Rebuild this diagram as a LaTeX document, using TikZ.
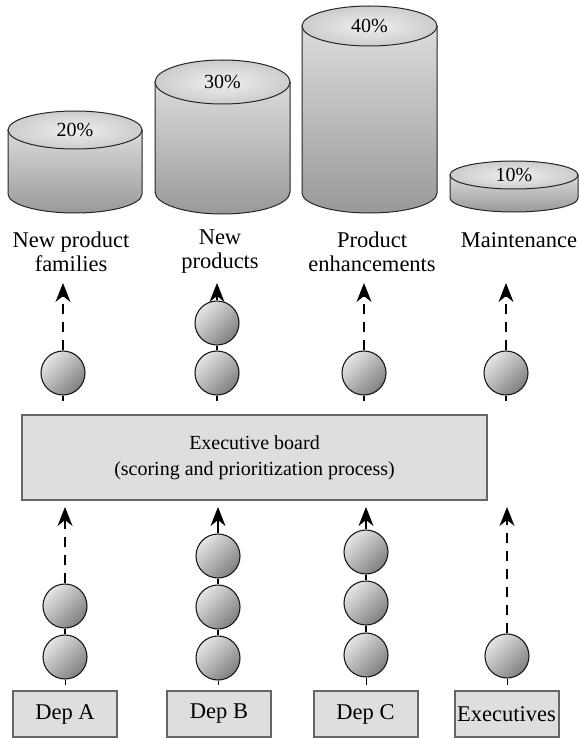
\documentclass[tikz,border=0pt]{standalone}
\usepackage{fontspec}
\setmainfont{Liberation Serif}
\newfontfamily\diagfont{Liberation Serif}
\usetikzlibrary{arrows.meta}
\newcommand\smallfont{\diagfont\fontsize{20}{26}\selectfont}
\newcommand\bigfont{\diagfont\fontsize{22.5}{24}\selectfont}
% cylinder: centre x, x radius, top y, bottom y, y radius, percentage, name
\newcommand\budgetcyl[7]{%
  \draw[cylbody] (#1-#2,#3) -- (#1-#2,#4)
    arc[start angle=180,end angle=0,x radius=#2,y radius=#5] -- (#1+#2,#3) -- cycle;
  \draw[cyltop] (#1,#3) ellipse[x radius=#2,y radius=#5];
  \node (#7) at (#1,#3) {#6};
}
\begin{document}
\begin{tikzpicture}[x=1pt,y=-1pt,
  every node/.style={font=\smallfont},
  cylbody/.style={line width=1pt,draw=black!85,top color=black!14,bottom color=black!40},
  cyltop/.style={line width=1pt,draw=black!85,inner color=black!6,outer color=black!20},
  token/.style={circle,draw=black!90,line width=1.1pt,minimum size=44pt,inner sep=0pt,
    top color=black!10,bottom color=black!50,shading angle=45},
  board/.style={draw=black!60,line width=2pt,fill=black!13,inner sep=0pt,align=center},
  dep/.style={board,font=\bigfont,minimum width=104pt,minimum height=46pt},
  link/.style={line width=1.1pt},
  flow/.style={line width=1.2pt,-{Stealth[length=19pt,width=15pt,inset=6pt]}},
  dflow/.style={flow,dash pattern=on 10pt off 8pt},
  label/.style={align=center,inner sep=0pt,font=\bigfont}
]
\useasboundingbox (0,0) rectangle (578,738);

% investment buckets
\budgetcyl{75}{67}{130}{194}{19}{20\%}{p1}
\budgetcyl{222.5}{67.5}{82}{192}{22}{30\%}{p2}
\budgetcyl{369.5}{67.5}{26}{193}{20}{40\%}{p3}
\budgetcyl{514}{64}{175}{198}{14}{10\%}{p4}

\node[label] (l1) at (71,252) {New product\\families};
\node[label] (l2) at (220,252) {New\\products};
\node[label] (l3) at (372,252) {Product\\enhancements};
\node[label] (l4) at (519,240) {Maintenance};

% executive board
\node[board,minimum width=465pt,minimum height=85pt] (eb) at (254.5,457.5)
  {Executive board\\(scoring and prioritization process)};

% sources
\node[dep] (da) at (65,714) {Dep A};
\node[dep] (db) at (219,714) {Dep B};
\node[dep] (dc) at (365.5,714) {Dep C};
\node[dep] (dx) at (506.5,714) {Executives};

% approved items above the board
\node[token] (ua1) at (63,373) {};
\node[token] (ub1) at (217,373) {};
\node[token] (ub2) at (217,323) {};
\node[token] (uc1) at (364,373) {};
\node[token] (ud1) at (506,373) {};

% proposed items below the board
\node[token] (la1) at (65,657) {};
\node[token] (la2) at (65,606) {};
\node[token] (lb1) at (218,658) {};
\node[token] (lb2) at (218,607) {};
\node[token] (lb3) at (218,556) {};
\node[token] (lc1) at (366,655) {};
\node[token] (lc2) at (366,603) {};
\node[token] (lc3) at (366,552) {};
\node[token] (ld1) at (507,656) {};

% arrow ends
\coordinate (ta) at (63,283);
\coordinate (tb) at (217,283);
\coordinate (tc) at (364,283);
\coordinate (td) at (506,283);
\coordinate (sa) at (65,507);
\coordinate (sb) at (218,507);
\coordinate (sc) at (366,507);
\coordinate (sd) at (507,507);

% short stubs under the stacks
\coordinate (qa) at (63,401);
\coordinate (qb) at (217,401);
\coordinate (qc) at (364,401);
\coordinate (qd) at (506,401);
\coordinate (ra) at (65,685);
\coordinate (rb) at (218,685);
\coordinate (rc) at (366,685);
\coordinate (rd) at (507,685);

\draw[link] (ua1.south) -- (qa);
\draw[link] (ub1.south) -- (qb);
\draw[link] (uc1.south) -- (qc);
\draw[link] (ud1.south) -- (qd);
\draw[line width=0.6pt] (la1.south) -- (ra);
\draw[line width=0.6pt] (lb1.south) -- (rb);
\draw[line width=0.6pt] (lc1.south) -- (rc);
\draw[line width=0.6pt] (ld1.south) -- (rd);

% links inside stacks
\draw[link] (ub1.north) -- (ub2.south);
\draw[link] (la1.north) -- (la2.south);
\draw[link] (lb1.north) -- (lb2.south);
\draw[link] (lb2.north) -- (lb3.south);
\draw[link] (lc1.north) -- (lc2.south);
\draw[link] (lc2.north) -- (lc3.south);

% flows upward
\draw[dflow] (ua1.north) -- (ta);
\draw[flow] (ub2.north) -- (tb);
\draw[dflow] (uc1.north) -- (tc);
\draw[dflow] (ud1.north) -- (td);
\draw[dflow] (la2.north) -- (sa);
\draw[flow] (lb3.north) -- (sb);
\draw[flow] (lc3.north) -- (sc);
\draw[dflow] (ld1.north) -- (sd);
\end{tikzpicture}
\end{document}
